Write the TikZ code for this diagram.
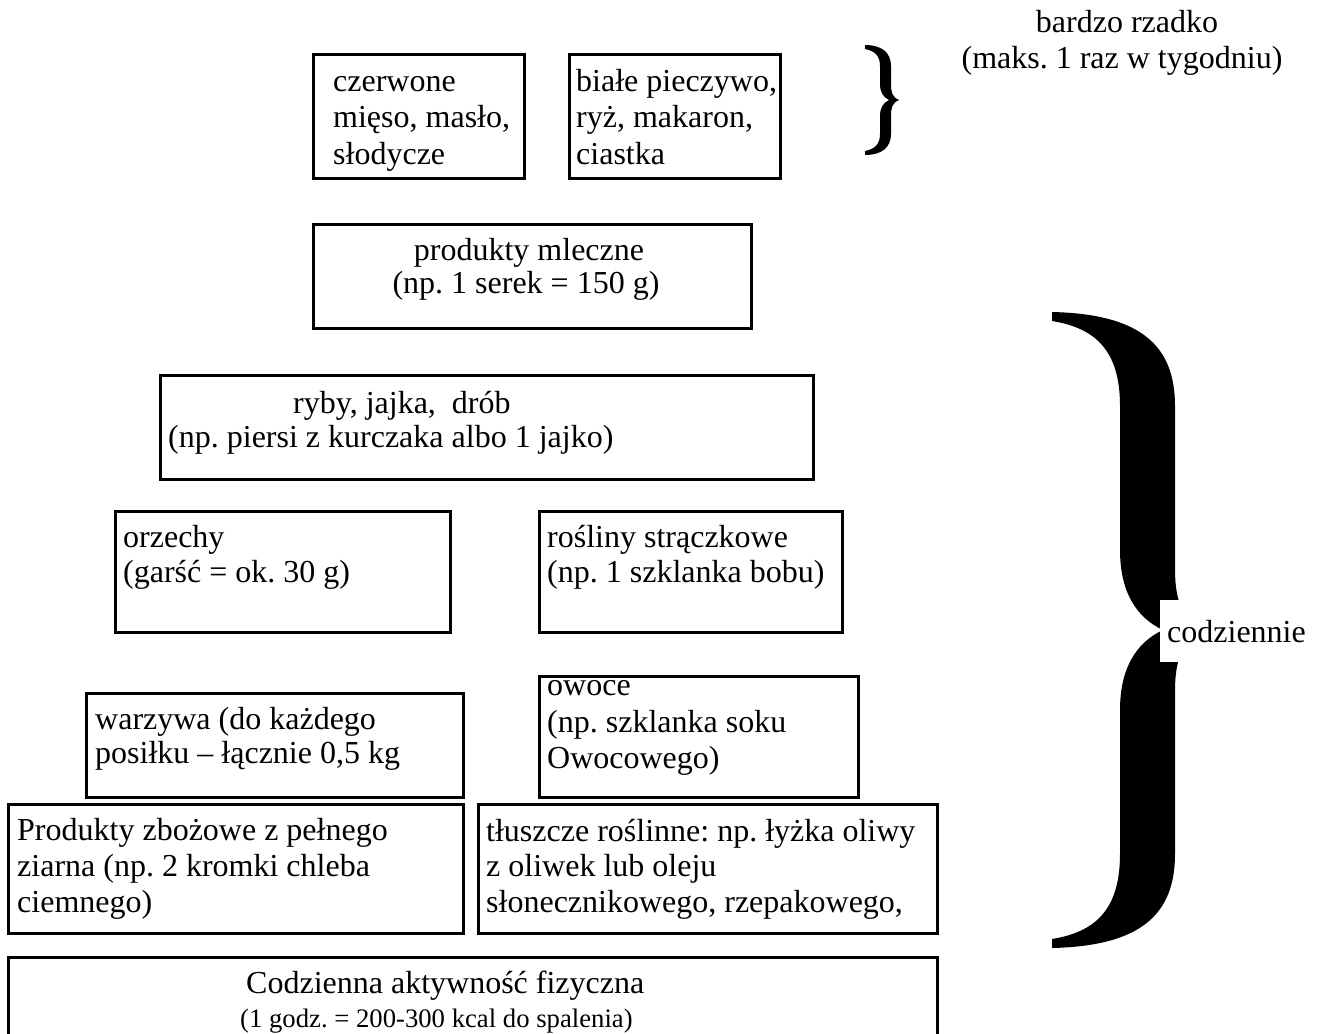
\documentclass[tikz,border=0pt]{standalone}
\usepackage{fontspec}
\setmainfont{Liberation Serif}
\frenchspacing
\begin{document}
\begin{tikzpicture}[x=1pt,y=-1pt,
  box/.style={draw, line width=2.6pt, inner sep=0pt, anchor=north west},
  txt/.style={anchor=base west, inner sep=0pt, font=\fontsize{32}{36}\selectfont},
  ctxt/.style={anchor=base, inner sep=0pt, font=\fontsize{32}{36}\selectfont},
  smalltxt/.style={anchor=base west, inner sep=0pt, font=\fontsize{26.7}{30}\selectfont},
  bracefill/.style={fill=black, draw=none}]
\useasboundingbox (0,0) rectangle (1318,1034);

% top row
\node[box, minimum width=211pt, minimum height=124pt] (czer) at (312,53) {};
\node[txt] (czer1) at (333,91) {czerwone};
\node[txt] (czer2) at (333,127) {mięso, masło,};
\node[txt] (czer3) at (333,164) {słodycze};

\node[box, minimum width=211pt, minimum height=124pt] (biale) at (568,53) {};
\node[txt] (biale1) at (576,91) {białe pieczywo,};
\node[txt] (biale2) at (576,127) {ryż, makaron,};
\node[txt] (biale3) at (576,164) {ciastka};

% dairy
\node[box, minimum width=438pt, minimum height=104pt] (mleczne) at (312,223) {};
\node[ctxt] (ml1) at (529,260) {produkty mleczne};
\node[ctxt] (ml2) at (526,293) {(np. 1 serek = 150 g)};

% fish
\node[box, minimum width=653pt, minimum height=104pt] (ryby) at (159,374) {};
\node[txt] (ryby1) at (293,413) {ryby, jajka,\ \ drób};
\node[txt] (ryby2) at (168,447) {(np. piersi z kurczaka albo 1 jajko)};

% nuts, legumes
\node[box, minimum width=335pt, minimum height=121pt] (orzechy) at (114,510) {};
\node[txt] (orz1) at (123,547) {orzechy};
\node[txt] (orz2) at (123,582) {(garść = ok. 30 g)};

\node[box, minimum width=303pt, minimum height=121pt] (rosliny) at (538,510) {};
\node[txt] (ros1) at (547,547) {rośliny strączkowe};
\node[txt] (ros2) at (547,582) {(np. 1 szklanka bobu)};

% vegetables, fruit
\node[box, minimum width=377pt, minimum height=104pt] (warzywa) at (85,692) {};
\node[txt] (war1) at (95,729) {warzywa (do każdego};
\node[txt] (war2) at (95,763) {posiłku – łącznie 0,5 kg};

\node[box, minimum width=319pt, minimum height=121pt] (owoce) at (538,675) {};
\node[txt] (owo1) at (547,695) {owoce};
\node[txt] (owo2) at (547,732) {(np. szklanka soku};
\node[txt] (owo3) at (547,768) {Owocowego)};

% grains, fats
\node[box, minimum width=455pt, minimum height=129pt] (zboz) at (7,803) {};
\node[txt] (zb1) at (17,840) {Produkty zbożowe z pełnego};
\node[txt] (zb2) at (17,876) {ziarna (np. 2 kromki chleba};
\node[txt] (zb3) at (17,912) {ciemnego)};

\node[box, minimum width=459pt, minimum height=129pt] (tluszcze) at (477,803) {};
\node[txt] (tl1) at (486,841) {tłuszcze roślinne: np. łyżka oliwy};
\node[txt] (tl2) at (486,876) {z oliwek lub oleju};
\node[txt] (tl3) at (486,912) {słonecznikowego, rzepakowego,};

% activity
\node[box, minimum width=929pt, minimum height=110pt] (aktyw) at (7,956) {};
\node[txt] (akt1) at (246,993) {Codzienna aktywność fizyczna};
\node[smalltxt] (akt2) at (240,1027) {(1 godz. = 200-300 kcal do spalenia)};

% small brace
\path[bracefill] (865,45) .. controls (881,45) and (891,52) .. (891,66)
  -- (891,84) .. controls (891,92) and (892,97) .. (899,100)
  .. controls (892,103) and (891,108) .. (891,116)
  -- (891,134) .. controls (891,148) and (881,155) .. (865,155)
  -- (865,151) .. controls (875,149) and (880,144) .. (880,134)
  -- (880,116) .. controls (880,108) and (883,103) .. (889,100)
  .. controls (883,97) and (880,92) .. (880,84)
  -- (880,66) .. controls (880,56) and (875,51) .. (865,49) -- cycle;
\node[ctxt] (rz1) at (1127,32) {bardzo rzadko};
\node[ctxt] (rz2) at (1122,68) {(maks. 1 raz w tygodniu)};

% large brace
\path[bracefill] (1052,312) .. controls (1140,314) and (1175,345) .. (1175,406)
  -- (1175,570) .. controls (1175,600) and (1183,618) .. (1198,630)
  .. controls (1183,642) and (1175,660) .. (1175,690)
  -- (1175,854) .. controls (1175,915) and (1140,946) .. (1052,948)
  -- (1052,939) .. controls (1095,932) and (1120,910) .. (1120,854)
  -- (1120,710) .. controls (1120,670) and (1135,643) .. (1163,630)
  .. controls (1135,617) and (1120,590) .. (1120,550)
  -- (1120,406) .. controls (1120,350) and (1095,328) .. (1052,321) -- cycle;
\node[fill=white, anchor=north west, inner xsep=7pt, inner ysep=0pt,
  minimum height=62pt, font=\fontsize{32}{36}\selectfont] (codz) at (1160,600) {codziennie};
\end{tikzpicture}
\end{document}
